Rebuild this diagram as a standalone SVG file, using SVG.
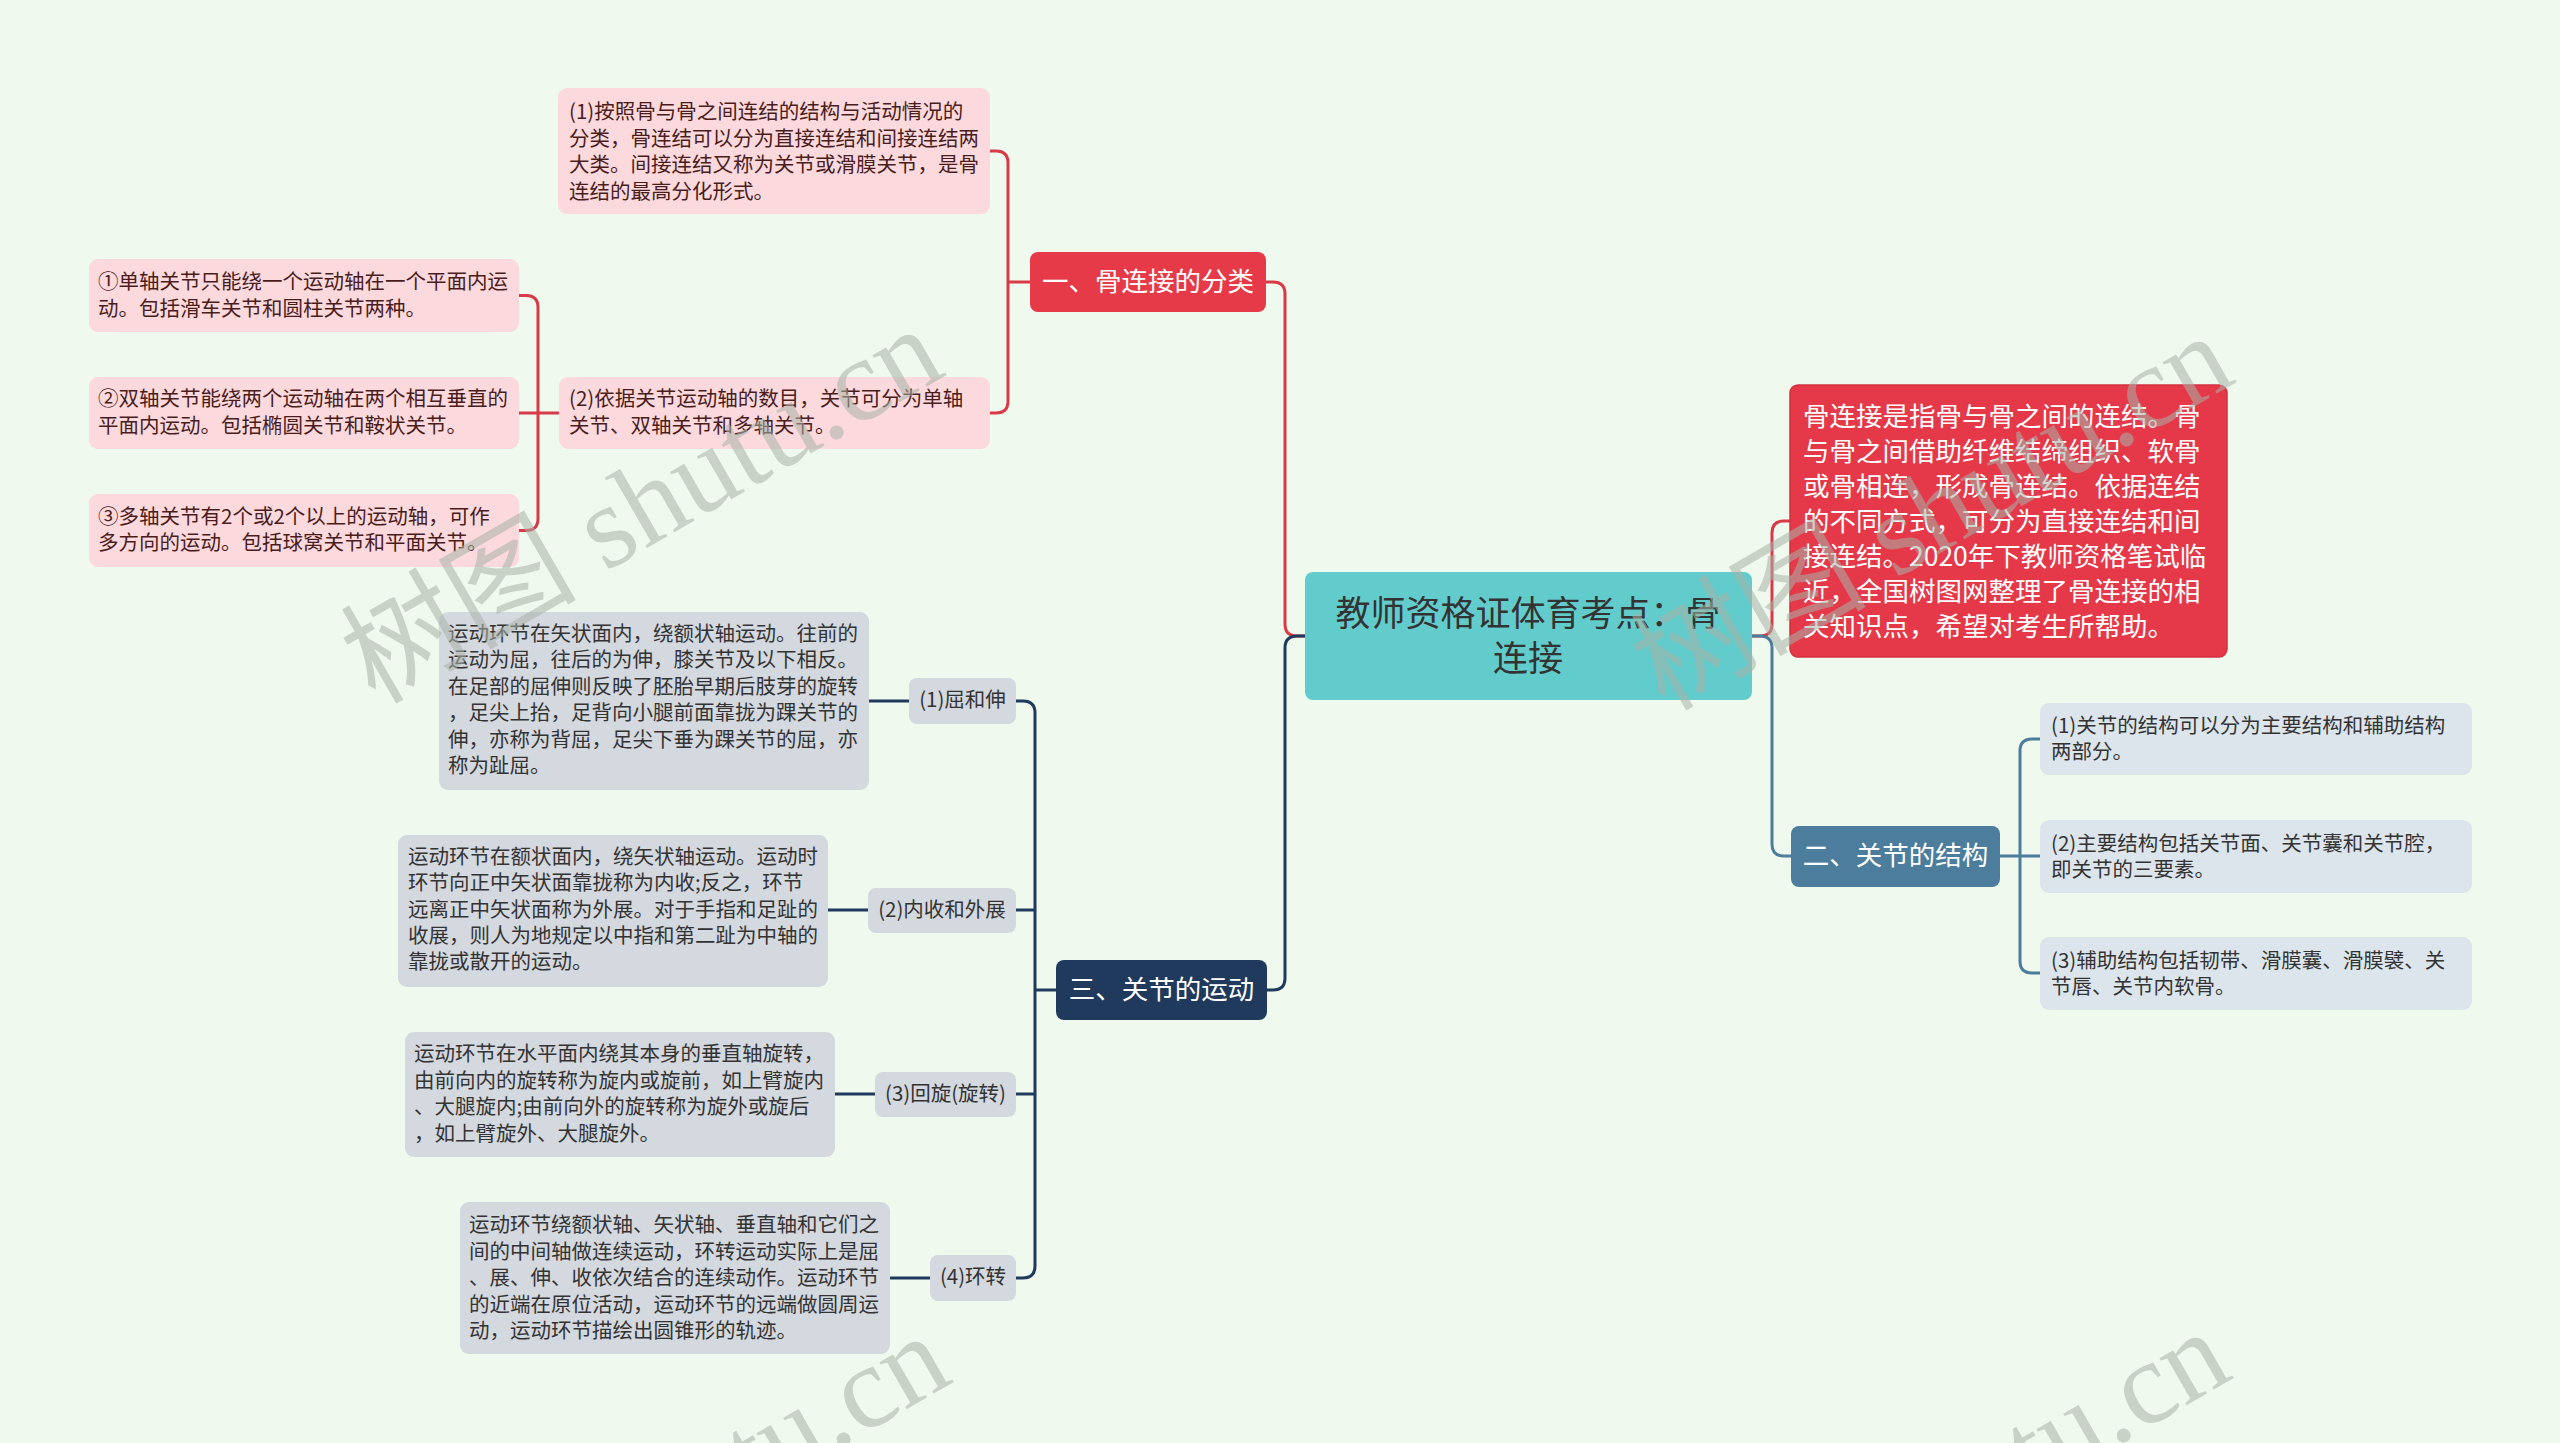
<svg xmlns="http://www.w3.org/2000/svg" width="2560" height="1443" viewBox="0 0 2560 1443">
<style>
text{font-family:"Noto Sans CJK SC","Liberation Sans",sans-serif;dominant-baseline:central}
text:not(.wm){transform:translateY(-3px)}
.t20{font-size:20.5px}
.pk{fill:#fbd9dc}
.pkt{fill:#4a1c1c}
.gy{fill:#d4d8df}
.lb{fill:#dde5ec}
.dk{fill:#333333}
.cat{font-size:26.5px;fill:#ffffff;text-anchor:middle}
.mid{text-anchor:middle}
.cr{fill:none;stroke:#d83a48;stroke-width:3}
.cn{fill:none;stroke:#1f3a5c;stroke-width:3}
.cb{fill:none;stroke:#4d7d9c;stroke-width:3}
.wm{font-family:"Liberation Serif","Noto Sans CJK SC",serif;font-size:118px;fill:#a9b3a9;opacity:0.55;dominant-baseline:auto}
</style>
<rect width="2560" height="1443" fill="#f0f9ee"/>

<g id="connectors">
  <path class="cr" d="M1305,636 H1297 Q1285,636 1285,624 V294 Q1285,282 1273,282 H1266"/>
  <path class="cn" d="M1305,636 H1297 Q1285,636 1285,648 V978 Q1285,990 1273,990 H1266"/>
  <path class="cr" d="M1752,636 H1760 Q1772,636 1772,624 V533 Q1772,521 1784,521 H1790"/>
  <path class="cb" d="M1752,636 H1760 Q1772,636 1772,648 V844 Q1772,856 1784,856 H1791"/>
  <path class="cr" d="M1030,282 H1008"/>
  <path class="cr" d="M990,151 H996 Q1008,151 1008,163 V401 Q1008,413 996,413 H990"/>
  <path class="cr" d="M559,413 H538"/>
  <path class="cr" d="M519,295.5 H526 Q538,295.5 538,307.5 V518.5 Q538,530.5 526,530.5 H519"/>
  <path class="cr" d="M519,413 H538"/>
  <path class="cn" d="M1056,990 H1035"/>
  <path class="cn" d="M1016,701 H1023 Q1035,701 1035,713 V1266 Q1035,1278 1023,1278 H1016"/>
  <path class="cn" d="M1016,910 H1035"/>
  <path class="cn" d="M1016,1094 H1035"/>
  <path class="cn" d="M869,701 H909"/>
  <path class="cn" d="M828,910 H868"/>
  <path class="cn" d="M835,1094 H875"/>
  <path class="cn" d="M890,1278 H930"/>
  <path class="cb" d="M2000,856 H2020"/>
  <path class="cb" d="M2040,739 H2032 Q2020,739 2020,751 V961 Q2020,973 2032,973 H2040"/>
  <path class="cb" d="M2020,856 H2040"/>
</g>

<g id="root">
  <rect x="1305" y="572" width="447" height="128" rx="8" fill="#62cccc"/>
  <text x="1528" y="613" class="mid" font-size="35" fill="#333333">教师资格证体育考点：骨</text>
  <text x="1528" y="658" class="mid" font-size="35" fill="#333333">连接</text>
</g>

<g id="summary">
  <rect x="1790" y="385" width="437" height="272" rx="8" fill="#e5394a" stroke="#d3303f" stroke-width="1.5"/>
  <text font-size="26.5" fill="#ffffff">
    <tspan x="1803" y="417">骨连接是指骨与骨之间的连结。骨</tspan>
    <tspan x="1803" y="452">与骨之间借助纤维结缔组织、软骨</tspan>
    <tspan x="1803" y="487">或骨相连，形成骨连结。依据连结</tspan>
    <tspan x="1803" y="522">的不同方式，可分为直接连结和间</tspan>
    <tspan x="1803" y="557">接连结。2020年下教师资格笔试临</tspan>
    <tspan x="1803" y="592">近，全国树图网整理了骨连接的相</tspan>
    <tspan x="1803" y="627">关知识点，希望对考生所帮助。</tspan>
  </text>
</g>

<g id="cat1">
  <rect x="1030" y="252" width="236" height="60" rx="8" fill="#e63a48"/>
  <text x="1148" y="282" class="cat">一、骨连接的分类</text>
</g>
<g id="c1-1">
  <rect x="558" y="88" width="432" height="126" rx="9" class="pk"/>
  <text class="t20 pkt">
    <tspan x="569" y="113">(1)按照骨与骨之间连结的结构与活动情况的</tspan>
    <tspan x="569" y="139.5">分类，骨连结可以分为直接连结和间接连结两</tspan>
    <tspan x="569" y="166">大类。间接连结又称为关节或滑膜关节，是骨</tspan>
    <tspan x="569" y="192.5">连结的最高分化形式。</tspan>
  </text>
</g>
<g id="c1-2">
  <rect x="559" y="377" width="431" height="72" rx="9" class="pk"/>
  <text class="t20 pkt">
    <tspan x="569" y="400">(2)依据关节运动轴的数目，关节可分为单轴</tspan>
    <tspan x="569" y="427">关节、双轴关节和多轴关节。</tspan>
  </text>
</g>
<g id="c1-2-1">
  <rect x="89" y="259" width="430" height="73" rx="9" class="pk"/>
  <text class="t20 pkt">
    <tspan x="98" y="283">①单轴关节只能绕一个运动轴在一个平面内运</tspan>
    <tspan x="98" y="310">动。包括滑车关节和圆柱关节两种。</tspan>
  </text>
</g>
<g id="c1-2-2">
  <rect x="89" y="377" width="430" height="72" rx="9" class="pk"/>
  <text class="t20 pkt">
    <tspan x="98" y="400">②双轴关节能绕两个运动轴在两个相互垂直的</tspan>
    <tspan x="98" y="427">平面内运动。包括椭圆关节和鞍状关节。</tspan>
  </text>
</g>
<g id="c1-2-3">
  <rect x="89" y="494" width="430" height="73" rx="9" class="pk"/>
  <text class="t20 pkt">
    <tspan x="98" y="518">③多轴关节有2个或2个以上的运动轴，可作</tspan>
    <tspan x="98" y="544">多方向的运动。包括球窝关节和平面关节。</tspan>
  </text>
</g>

<g id="cat2">
  <rect x="1791" y="826" width="209" height="61" rx="8" fill="#4d7d9c"/>
  <text x="1895.5" y="856" class="cat">二、关节的结构</text>
</g>
<g id="c2-1">
  <rect x="2040" y="703" width="432" height="72" rx="9" class="lb"/>
  <text class="t20 dk">
    <tspan x="2051" y="727">(1)关节的结构可以分为主要结构和辅助结构</tspan>
    <tspan x="2051" y="753">两部分。</tspan>
  </text>
</g>
<g id="c2-2">
  <rect x="2040" y="820" width="432" height="73" rx="9" class="lb"/>
  <text class="t20 dk">
    <tspan x="2051" y="845">(2)主要结构包括关节面、关节囊和关节腔，</tspan>
    <tspan x="2051" y="871">即关节的三要素。</tspan>
  </text>
</g>
<g id="c2-3">
  <rect x="2040" y="937" width="432" height="73" rx="9" class="lb"/>
  <text class="t20 dk">
    <tspan x="2051" y="962">(3)辅助结构包括韧带、滑膜囊、滑膜襞、关</tspan>
    <tspan x="2051" y="988">节唇、关节内软骨。</tspan>
  </text>
</g>

<g id="cat3">
  <rect x="1056" y="960" width="211" height="60" rx="8" fill="#1f3a5c"/>
  <text x="1161.5" y="990" class="cat">三、关节的运动</text>
</g>
<g id="c3-1">
  <rect x="909" y="678" width="107" height="46" rx="8" class="gy"/>
  <text x="962.5" y="701" class="t20 dk mid">(1)屈和伸</text>
</g>
<g id="c3-1-d">
  <rect x="439" y="612" width="430" height="178" rx="9" class="gy"/>
  <text class="t20 dk">
    <tspan x="448" y="635">运动环节在矢状面内，绕额状轴运动。往前的</tspan>
    <tspan x="448" y="661.4">运动为屈，往后的为伸，膝关节及以下相反。</tspan>
    <tspan x="448" y="687.8">在足部的屈伸则反映了胚胎早期后肢芽的旋转</tspan>
    <tspan x="448" y="714.2">，足尖上抬，足背向小腿前面靠拢为踝关节的</tspan>
    <tspan x="448" y="740.6">伸，亦称为背屈，足尖下垂为踝关节的屈，亦</tspan>
    <tspan x="448" y="767">称为趾屈。</tspan>
  </text>
</g>
<g id="c3-2">
  <rect x="868" y="888" width="148" height="45" rx="8" class="gy"/>
  <text x="942" y="910.5" class="t20 dk mid">(2)内收和外展</text>
</g>
<g id="c3-2-d">
  <rect x="398" y="835" width="430" height="152" rx="9" class="gy"/>
  <text class="t20 dk">
    <tspan x="408" y="858">运动环节在额状面内，绕矢状轴运动。运动时</tspan>
    <tspan x="408" y="884.3">环节向正中矢状面靠拢称为内收;反之，环节</tspan>
    <tspan x="408" y="910.6">远离正中矢状面称为外展。对于手指和足趾的</tspan>
    <tspan x="408" y="936.9">收展，则人为地规定以中指和第二趾为中轴的</tspan>
    <tspan x="408" y="963.2">靠拢或散开的运动。</tspan>
  </text>
</g>
<g id="c3-3">
  <rect x="875" y="1072" width="141" height="45" rx="8" class="gy"/>
  <text x="945.5" y="1094.5" class="t20 dk mid">(3)回旋(旋转)</text>
</g>
<g id="c3-3-d">
  <rect x="405" y="1032" width="430" height="125" rx="9" class="gy"/>
  <text class="t20 dk">
    <tspan x="414" y="1055">运动环节在水平面内绕其本身的垂直轴旋转，</tspan>
    <tspan x="414" y="1081.5">由前向内的旋转称为旋内或旋前，如上臂旋内</tspan>
    <tspan x="414" y="1108">、大腿旋内;由前向外的旋转称为旋外或旋后</tspan>
    <tspan x="414" y="1134.5">，如上臂旋外、大腿旋外。</tspan>
  </text>
</g>
<g id="c3-4">
  <rect x="930" y="1255" width="86" height="46" rx="8" class="gy"/>
  <text x="973" y="1278" class="t20 dk mid">(4)环转</text>
</g>
<g id="c3-4-d">
  <rect x="460" y="1202" width="430" height="152" rx="9" class="gy"/>
  <text class="t20 dk">
    <tspan x="469" y="1226">运动环节绕额状轴、矢状轴、垂直轴和它们之</tspan>
    <tspan x="469" y="1252.5">间的中间轴做连续运动，环转运动实际上是屈</tspan>
    <tspan x="469" y="1279">、展、伸、收依次结合的连续动作。运动环节</tspan>
    <tspan x="469" y="1305.5">的近端在原位活动，运动环节的远端做圆周运</tspan>
    <tspan x="469" y="1332">动，运动环节描绘出圆锥形的轨迹。</tspan>
  </text>
</g>

<g id="watermarks">
  <text class="wm" x="375" y="705" transform="rotate(-30 375 705)">树图 shutu.cn</text>
  <text class="wm" x="1665" y="712" transform="rotate(-30 1665 712)">树图 shutu.cn</text>
  <text class="wm" x="382" y="1712" transform="rotate(-30 382 1712)">树图 shutu.cn</text>
  <text class="wm" x="1662" y="1708" transform="rotate(-30 1662 1708)">树图 shutu.cn</text>
</g>
</svg>
